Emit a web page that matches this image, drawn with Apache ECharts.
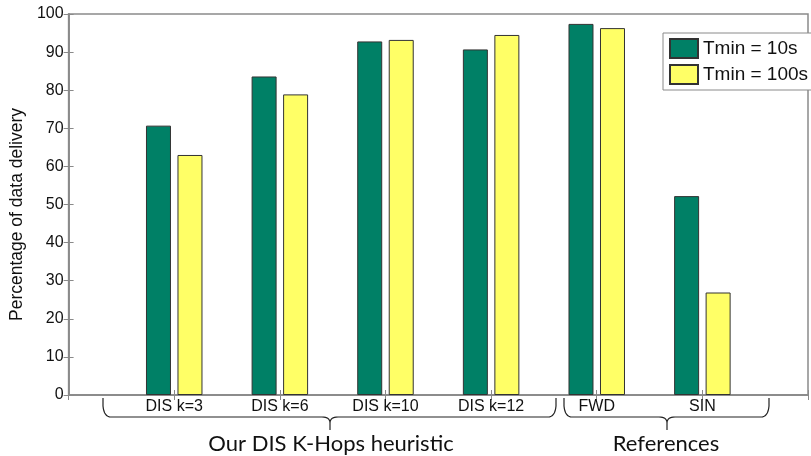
<!DOCTYPE html>
<html>
<head>
<meta charset="utf-8">
<script src="https://cdn.jsdelivr.net/npm/echarts@6/dist/echarts.min.js"></script>
<style>
html,body{margin:0;padding:0;background:#fff;}
#c{width:811px;height:456px;}
</style>
</head>
<body>
<div id="c"></div>
<script>
var categories = ['DIS k=3', 'DIS k=6', 'DIS k=10', 'DIS k=12', 'FWD', 'SIN'];
var tmin10 = [70.7, 83.6, 92.8, 90.7, 97.4, 52.2];
var tmin100 = [63.0, 78.9, 93.2, 94.5, 96.3, 26.9];
var seriesNames = ['Tmin = 10s', 'Tmin = 100s'];
var yTicks = [0, 10, 20, 30, 40, 50, 60, 70, 80, 90, 100];
var groupLabels = ['Our DIS K-Hops heuristic', 'References'];

var FONT = '"Liberation Sans", Arial, Helvetica, sans-serif';
var AXC = '#8a8a8a';

function pairs(vals) {
  return vals.map(function (v, i) { return [i + 1, v]; });
}

function quad(p0, c, p1, n) {
  var pts = [];
  for (var i = 0; i <= n; i++) {
    var t = i / n;
    var x = (1 - t) * (1 - t) * p0[0] + 2 * (1 - t) * t * c[0] + t * t * p1[0];
    var y = (1 - t) * (1 - t) * p0[1] + 2 * (1 - t) * t * c[1] + t * t * p1[1];
    pts.push([x, y]);
  }
  return pts;
}

function brace(x1, x2, xm, yTop, yH, yTip) {
  var pts = [[x1, yTop]];
  pts = pts.concat(quad([x1, yTop + 8], [x1 + 1, yH], [x1 + 8, yH], 8));
  pts = pts.concat(quad([xm - 8, yH], [xm, yH], [xm, yH + 6], 8));
  pts.push([xm, yTip]);
  pts.push([xm, yH + 6]);
  pts = pts.concat(quad([xm, yH + 6], [xm, yH], [xm + 8, yH], 8));
  pts = pts.concat(quad([x2 - 8, yH], [x2 - 1, yH], [x2, yTop + 8], 8));
  pts.push([x2, yTop]);
  return pts;
}

var chart = echarts.init(document.getElementById('c'), null, {renderer: 'canvas'});

var tickLabelSet = {};
yTicks.forEach(function (t) { tickLabelSet[t] = true; });

var option = {
  animation: false,
  backgroundColor: '#fff',
  grid: {left: 65, top: 14, right: -7, bottom: 61, show: true, borderColor: AXC, borderWidth: 1.5, backgroundColor: 'transparent'},
  legend: {
    orient: 'vertical',
    left: 663, top: 33,
    itemWidth: 28, itemHeight: 19, itemGap: 5,
    padding: [5, 8, 5, 6],
    borderColor: AXC, borderWidth: 1, backgroundColor: '#fff',
    textStyle: {fontFamily: FONT, fontSize: 19, color: '#111'},
    icon: 'rect',
    data: seriesNames
  },
  xAxis: [{
    type: 'value', min: 0, max: 7, interval: 1, position: 'bottom',
    axisLine: {show: true, lineStyle: {color: AXC, width: 1.5}},
    axisTick: {show: true, inside: true, length: 5, lineStyle: {color: AXC}},
    splitLine: {show: false},
    axisLabel: {
      margin: 4, color: '#111', fontFamily: FONT, fontSize: 16,
      formatter: function (v) { return categories[v - 1] || ''; }
    }
  }, {
    type: 'value', min: 0, max: 7, interval: 1, position: 'top',
    axisLine: {show: true, lineStyle: {color: AXC, width: 1.5}},
    axisTick: {show: true, inside: true, length: 5, lineStyle: {color: AXC}},
    splitLine: {show: false},
    axisLabel: {show: false}
  }],
  yAxis: [{
    type: 'value', min: 0, max: 100, interval: 10, position: 'left',
    name: 'Percentage of data delivery', nameLocation: 'middle', nameGap: 38,
    nameTextStyle: {fontFamily: FONT, fontSize: 17.5, color: '#111', padding: [0, 20, 0, 0]},
    axisLine: {show: true, lineStyle: {color: AXC, width: 1.5}},
    axisTick: {show: true, inside: true, length: 5, lineStyle: {color: AXC}},
    splitLine: {show: false},
    axisLabel: {margin: 5, color: '#111', fontFamily: FONT, fontSize: 16,
      formatter: function (v) { return tickLabelSet[v] ? String(v) : ''; }}
  }, {
    type: 'value', min: 0, max: 100, interval: 10, position: 'right',
    axisLine: {show: true, lineStyle: {color: AXC, width: 1.5}},
    axisTick: {show: true, inside: true, length: 5, lineStyle: {color: AXC}},
    splitLine: {show: false},
    axisLabel: {show: false}
  }],
  series: [{
    name: seriesNames[0], type: 'bar', xAxisIndex: 0, yAxisIndex: 0,
    data: pairs(tmin10), barWidth: 25, barGap: '26%',
    itemStyle: {color: '#008066', borderColor: '#333', borderWidth: 1}
  }, {
    name: seriesNames[1], type: 'bar', xAxisIndex: 0, yAxisIndex: 0,
    data: pairs(tmin100), barWidth: 25, barGap: '26%',
    itemStyle: {color: '#ffff66', borderColor: '#333', borderWidth: 1}
  }],
  graphic: [{
    type: 'polyline', silent: true,
    shape: {points: brace(103, 556, 330, 398, 417, 430)},
    style: {stroke: '#222', lineWidth: 1.2, fill: null}
  }, {
    type: 'polyline', silent: true,
    shape: {points: brace(564, 769, 667, 398, 417, 430)},
    style: {stroke: '#222', lineWidth: 1.2, fill: null}
  }, {
    type: 'text', silent: true,
    style: {text: groupLabels[0], x: 331, y: 444, textAlign: 'center', textVerticalAlign: 'middle',
      font: '22px Lato, "Open Sans", sans-serif', fill: '#111'}
  }, {
    type: 'text', silent: true,
    style: {text: groupLabels[1], x: 666, y: 444, textAlign: 'center', textVerticalAlign: 'middle',
      font: '22px Lato, "Open Sans", sans-serif', fill: '#111'}
  }]
};
chart.setOption(option);
</script>
</body>
</html>
